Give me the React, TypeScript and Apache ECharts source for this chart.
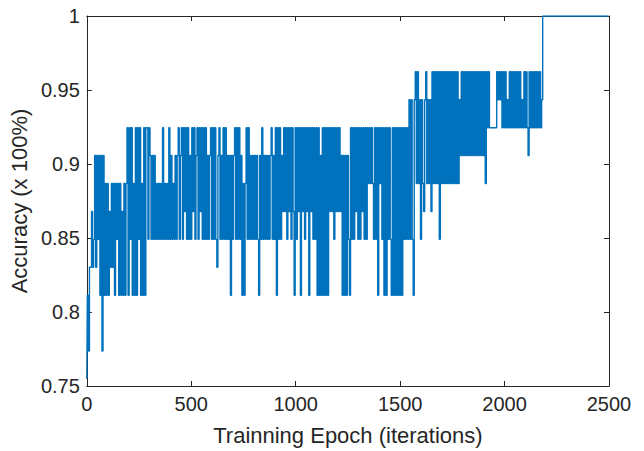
import React, { useEffect, useRef } from "react";
import * as echarts from "echarts";

// Accuracy levels (k/53 of the validation set), indexed by hex code 0..d
const accuracyLevels = [
  0.7547, 0.7736, 0.7925, 0.8113, 0.8302, 0.8491, 0.8679, 0.8868, 0.9057,
  0.9245, 0.9434, 0.9623, 0.9811, 1.0,
];

const accuracyCodes = [
  "031", "44", "645", "84858", "38183", "737364747", "37573", "7363737",
  "9395937393959373939", "959",
  "8585857575", "7595757595", "8575858958", "9596959585", "9695895969",
  "5959585895", "9595489585", "9595858385", "8959595837", "3795958585", "858538",
  "5958585858958593959586969",
  "5969596395969396959693969595",
  "9393839393939",
  "69695969696",
  "8383838",
  "539595969595969595",
  "979797",
  "5959397",
  "9593939595", "3939393939", "3959595a5a", "53ab7",
  "b7a5a76ab7a7a6b7b7b7b5",
  "b7b7b7b7b7b7b7b7b7",
  "a8",
  "b8b8b8b8b8b8b8b8b8b8b8b", "7b9b",
  "9999999",
  "babab9b9b9", "a9b9b9b9b9", "b9b9a9b9b9", "8b9b9b9b9b", "9b9a",
  "dddddddd", "dddddddd", "dddddddd", "dddddddd",
  "dddddddd", "dddddddd", "dddddddd", "dddddddd",
];

const iterationStep = 5;
const xTicks = { min: 0, max: 2500, interval: 500 };
const yTicks = { min: 0.75, max: 1, interval: 0.05 };

const xLabel = "Trainning Epoch (iterations)";
const yLabel = "Accuracy (x 100%)";

export default function App() {
  const ref = useRef<HTMLDivElement>(null);

  useEffect(() => {
    if (!ref.current) return;
    const chart = echarts.init(ref.current, null, { renderer: "svg" });
    const codes = accuracyCodes.join("");
    const data: [number, number][] = [];
    for (let i = 0; i < codes.length; i++) {
      data.push([i * iterationStep, accuracyLevels[parseInt(codes[i], 16)]]);
    }
    const axisColor = "#262626";
    const font = "'Liberation Sans', Arial, Helvetica, sans-serif";
    const lineStyle = { color: axisColor, width: 1 };
    const tick = { show: true, inside: true, length: 5, lineStyle };
    chart.setOption({
      animation: false,
      backgroundColor: "#ffffff",
      grid: { left: 86, right: 35, top: 16, bottom: 64, containLabel: false },
      xAxis: [
        {
          type: "value",
          ...xTicks,
          position: "bottom",
          axisLine: { show: true, onZero: false, lineStyle },
          axisTick: tick,
          splitLine: { show: false },
          axisLabel: {
            color: axisColor,
            fontSize: 20,
            fontFamily: font,
            margin: 8,
            formatter: (v: number) => String(v),
          },
          name: xLabel,
          nameLocation: "middle",
          nameGap: 38,
          nameTextStyle: { color: axisColor, fontSize: 22, fontFamily: font },
        },
        {
          type: "value",
          ...xTicks,
          position: "top",
          axisLine: { show: true, onZero: false, lineStyle },
          axisTick: tick,
          splitLine: { show: false },
          axisLabel: { show: false },
        },
      ],
      yAxis: [
        {
          type: "value",
          ...yTicks,
          position: "left",
          axisLine: { show: true, onZero: false, lineStyle },
          axisTick: tick,
          splitLine: { show: false },
          axisLabel: {
            color: axisColor,
            fontSize: 20,
            fontFamily: font,
            margin: 7,
            formatter: (v: number) => String(Math.round(v * 100) / 100),
          },
          name: yLabel,
          nameLocation: "middle",
          nameGap: 41,
          nameTextStyle: { color: axisColor, fontSize: 22, fontFamily: font },
        },
        {
          type: "value",
          ...yTicks,
          position: "right",
          axisLine: { show: true, onZero: false, lineStyle },
          axisTick: tick,
          splitLine: { show: false },
          axisLabel: { show: false },
        },
      ],
      series: [
        {
          type: "line",
          xAxisIndex: 0,
          yAxisIndex: 0,
          data,
          step: "middle",
          showSymbol: false,
          symbol: "none",
          lineStyle: { color: "#0072BD", width: 1.4 },
          itemStyle: { color: "#0072BD" },
        },
      ],
    });
    return () => chart.dispose();
  }, []);

  return (
    <div
      ref={ref}
      style={{ position: "fixed", left: 0, top: 0, width: 644, height: 451 }}
    />
  );
}
